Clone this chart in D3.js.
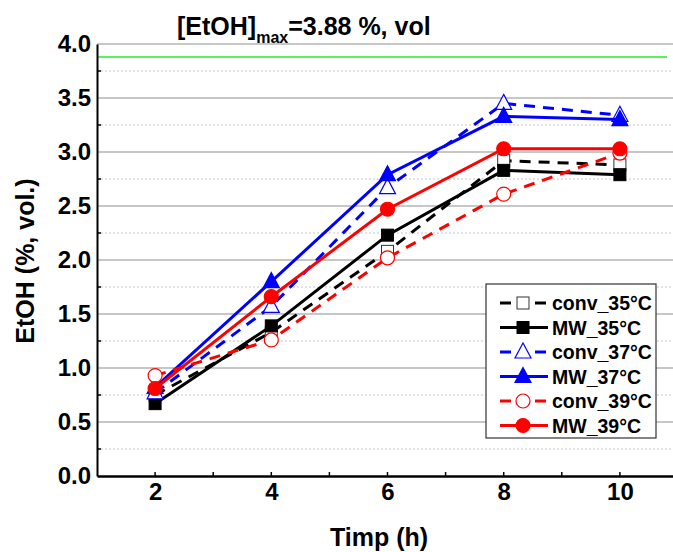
<!DOCTYPE html>
<html>
<head>
<meta charset="utf-8">
<script src="https://cdn.jsdelivr.net/npm/d3@7"></script>
<style>
  body { margin: 0; background: #fff; }
  svg text { font-family: "Liberation Sans", Arial, sans-serif; font-weight: bold; }
</style>
</head>
<body>
<div id="chart"></div>
<script>
// données
const hours = [2, 4, 6, 8, 10];
const conv35 = [0.75, 1.33, 2.08, 2.92, 2.88];
const mw35 = [0.67, 1.39, 2.23, 2.83, 2.79];
const conv37 = [0.77, 1.57, 2.67, 3.45, 3.34];
const mw37 = [0.82, 1.80, 2.79, 3.33, 3.30];
const conv39 = [0.93, 1.26, 2.02, 2.61, 2.99];
const mw39 = [0.81, 1.66, 2.47, 3.03, 3.03];
const xTicks = [2, 4, 6, 8, 10];
const yTicks = [0, 0.5, 1, 1.5, 2, 2.5, 3, 3.5, 4];
const etohMax = 3.88;

const series = [
  { name: "conv_35°C", values: conv35, color: "#000", dashed: true, shape: "square", filled: false },
  { name: "MW_35°C", values: mw35, color: "#000", dashed: false, shape: "square", filled: true },
  { name: "conv_37°C", values: conv37, color: "#0000ff", dashed: true, shape: "triangle", filled: false },
  { name: "MW_37°C", values: mw37, color: "#0000ff", dashed: false, shape: "triangle", filled: true },
  { name: "conv_39°C", values: conv39, color: "#ff0000", dashed: true, shape: "circle", filled: false },
  { name: "MW_39°C", values: mw39, color: "#ff0000", dashed: false, shape: "circle", filled: true }
];

const width = 673, height = 552;
const x = d3.scaleLinear().domain([1, 11]).range([97, 678]);
const y = d3.scaleLinear().domain([0, 4]).range([476, 44]);

const svg = d3.select("#chart").append("svg")
  .attr("width", width).attr("height", height);

// grille : lignes pleines aux 0.5, pointillées entre
svg.append("g").selectAll("line")
  .data(yTicks.filter(d => d > 0))
  .join("line")
  .attr("x1", 97).attr("x2", width)
  .attr("y1", d => y(d)).attr("y2", d => y(d))
  .attr("stroke", "#b4b4b4").attr("stroke-width", 1.5);

svg.append("g").selectAll("line")
  .data(d3.range(0.25, 4, 0.5))
  .join("line")
  .attr("x1", 97).attr("x2", width)
  .attr("y1", d => y(d)).attr("y2", d => y(d))
  .attr("stroke", "#c8c8c8").attr("stroke-width", 1)
  .attr("stroke-dasharray", "2,2");

// ligne verte du maximum
svg.append("line")
  .attr("x1", 97).attr("x2", 667)
  .attr("y1", y(etohMax)).attr("y2", y(etohMax))
  .attr("stroke", "#22ee22").attr("stroke-width", 1.5);

// axes
const yAxis = svg.append("g")
  .attr("transform", "translate(97,0)")
  .call(d3.axisLeft(y).tickValues(yTicks).tickFormat(d3.format(".1f")).tickSize(0).tickPadding(6));
yAxis.select(".domain").attr("stroke", "#000").attr("stroke-width", 2);
yAxis.selectAll("text").attr("font-size", 24).attr("fill", "#000");

const xAxis = svg.append("g")
  .attr("transform", "translate(0,476)")
  .call(d3.axisBottom(x).tickValues(xTicks).tickSize(0).tickPadding(7));
xAxis.select(".domain").attr("stroke", "#000").attr("stroke-width", 2.5);
xAxis.selectAll("text").attr("font-size", 24).attr("fill", "#000");

// petites graduations
svg.append("g").selectAll("line")
  .data(d3.range(2, 12, 1))
  .join("line")
  .attr("x1", d => x(d)).attr("x2", d => x(d))
  .attr("y1", 476).attr("y2", 472)
  .attr("stroke", "#000").attr("stroke-width", 1.5);
svg.append("g").selectAll("line")
  .data(d3.range(0.25, 4, 0.5))
  .join("line")
  .attr("x1", 97).attr("x2", 101)
  .attr("y1", d => y(d)).attr("y2", d => y(d))
  .attr("stroke", "#000").attr("stroke-width", 1.5);

// fonction pour dessiner un marqueur
function drawMarker(g, s, cx, cy) {
  const fill = s.filled ? s.color : "#fff";
  if (s.shape === "square") {
    g.append("rect").attr("x", cx - 6).attr("y", cy - 6)
      .attr("width", 12).attr("height", 12)
      .attr("fill", fill).attr("stroke", s.filled ? s.color : "#333").attr("stroke-width", 1);
  } else if (s.shape === "triangle") {
    g.append("path")
      .attr("d", `M${cx},${cy - 9}L${cx + 8},${cy + 6}L${cx - 8},${cy + 6}Z`)
      .attr("fill", fill).attr("stroke", s.color).attr("stroke-width", 1.2);
  } else {
    g.append("circle").attr("cx", cx).attr("cy", cy).attr("r", 7)
      .attr("fill", fill).attr("stroke", s.color).attr("stroke-width", 1.2);
  }
}

const line = d3.line().x(d => x(d[0])).y(d => y(d[1]));

series.forEach(s => {
  const pts = hours.map((h, i) => [h, s.values[i]]);
  const g = svg.append("g");
  g.append("path")
    .attr("d", line(pts))
    .attr("fill", "none")
    .attr("stroke", s.color)
    .attr("stroke-width", 3)
    .attr("stroke-dasharray", s.dashed ? "11,8" : null);
  pts.forEach(p => drawMarker(g, s, x(p[0]), y(p[1])));
});

// légende
const legend = svg.append("g");
legend.append("rect")
  .attr("x", 486).attr("y", 284).attr("width", 170).attr("height", 154)
  .attr("fill", "#fff").attr("stroke", "#333").attr("stroke-width", 1.2);

series.forEach((s, i) => {
  const ly = 303 + i * 24.5;
  const lg = legend.append("g");
  if (s.dashed) {
    lg.append("line").attr("x1", 500).attr("x2", 511).attr("y1", ly).attr("y2", ly)
      .attr("stroke", s.color).attr("stroke-width", 3);
    lg.append("line").attr("x1", 535).attr("x2", 546).attr("y1", ly).attr("y2", ly)
      .attr("stroke", s.color).attr("stroke-width", 3);
  } else {
    lg.append("line").attr("x1", 500).attr("x2", 548).attr("y1", ly).attr("y2", ly)
      .attr("stroke", s.color).attr("stroke-width", 3);
  }
  drawMarker(lg, s, 523, ly);
  lg.append("text").attr("x", 552).attr("y", ly + 7)
    .attr("font-size", 19.5).attr("fill", "#000").text(s.name);
});

// titres
const title = svg.append("text").attr("x", 177).attr("y", 35)
  .attr("font-size", 25).attr("fill", "#000");
title.append("tspan").text("[EtOH]");
title.append("tspan").attr("font-size", 16).attr("dy", 8).text("max");
title.append("tspan").attr("dy", -8).text("=3.88 %, vol");

svg.append("text")
  .attr("x", 379).attr("y", 546)
  .attr("text-anchor", "middle").attr("font-size", 25).attr("fill", "#000")
  .text("Timp (h)");

svg.append("text")
  .attr("transform", "translate(34,261) rotate(-90)")
  .attr("text-anchor", "middle").attr("font-size", 25).attr("fill", "#000")
  .text("EtOH (%, vol.)");
</script>
</body>
</html>
